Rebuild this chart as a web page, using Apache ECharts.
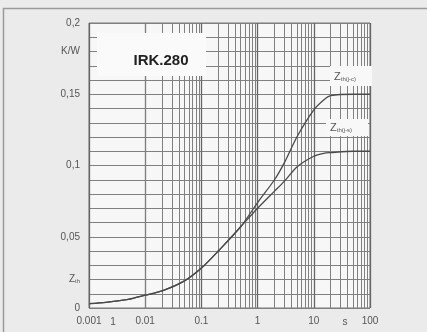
<!DOCTYPE html>
<html>
<head>
<meta charset="utf-8">
<script src="https://cdn.jsdelivr.net/npm/echarts@6/dist/echarts.min.js"></script>
<style>html,body{margin:0;padding:0;background:#ebebeb;}#c{width:427px;height:332px;}</style>
</head>
<body>
<div id="c"></div>
<script>
// Data
const times   = [0.001, 0.002, 0.005, 0.01, 0.02, 0.05, 0.1, 0.2, 0.5, 1, 2, 3, 5, 10, 15, 20, 50, 100];
const zthTop  = [0.003, 0.004, 0.006, 0.009, 0.012, 0.019, 0.028, 0.040, 0.057, 0.074, 0.090, 0.102, 0.120, 0.139, 0.146, 0.149, 0.150, 0.150];
const zthLow  = [0.003, 0.004, 0.006, 0.009, 0.012, 0.019, 0.028, 0.040, 0.057, 0.070, 0.082, 0.089, 0.099, 0.1065, 0.1085, 0.109, 0.110, 0.110];
const xMajor  = [0.001, 0.01, 0.1, 1, 10, 100];
const xTickLabels = ['0.001', '0.01', '0.1', '1', '10', '100'];
const yTickLabels = {0: '0', 5: '0,05', 10: '0,1', 15: '0,15', 20: '0,2', 18: 'K/W', 2: '{z|Z}{s|th}'};
const title = 'IRK.280';
const curveNames = ['th(j-c)', 'th(j-s)'];

// minor gridline values (2..9 per decade)
const xMinor = [];
for (let d = 0; d < xMajor.length - 1; d++) {
  for (let k = 2; k <= 9; k++) xMinor.push(+(xMajor[d] * k).toPrecision(3));
}

const chart = echarts.init(document.getElementById('c'));
const gridCol = '#808080';
chart.setOption({
  backgroundColor: '#ebebeb',
  animation: false,
  grid: {left: 89, right: 57, top: 23, bottom: 24, show: true, backgroundColor: '#f7f7f7', borderColor: '#777', borderWidth: 1},
  xAxis: {
    type: 'log', min: 0.001, max: 100, logBase: 10,
    axisLine: {show: false}, axisTick: {show: false},
    splitLine: {show: true, lineStyle: {color: '#666', width: 1.3}},
    axisLabel: {
      color: '#555', fontSize: 10, fontFamily: 'Liberation Sans', margin: 8,
      formatter: function (v) {
        for (let i = 0; i < xMajor.length; i++) if (Math.abs(Math.log10(v) - Math.log10(xMajor[i])) < 1e-6) return xTickLabels[i];
        return '';
      }
    }
  },
  yAxis: {
    type: 'value', min: 0, max: 0.2, interval: 0.01,
    axisLine: {show: false}, axisTick: {show: false},
    splitLine: {show: true, lineStyle: {color: gridCol, width: 1}},
    axisLabel: {
      color: '#555', fontSize: 10, fontFamily: 'Liberation Sans', margin: 9,
      formatter: function (v) {
        const k = Math.round(v * 100);
        return yTickLabels[k] !== undefined ? yTickLabels[k] : '';
      },
      rich: {z: {fontSize: 10, color: '#555'}, s: {fontSize: 6, color: '#555', verticalAlign: 'bottom', padding: [4, 0, 0, 0]}}
    }
  },
  series: [
    {
      type: 'line', name: curveNames[0], data: times.map((t, i) => [t, zthTop[i]]),
      smooth: 0.25, symbol: 'none', lineStyle: {color: '#4a4a4a', width: 1.3}, z: 5,
      markLine: {
        silent: true, symbol: 'none', label: {show: false},
        lineStyle: {color: gridCol, width: 1, type: 'solid'},
        data: xMinor.map(v => ({xAxis: v}))
      }
    },
    {
      type: 'line', name: curveNames[1], data: times.map((t, i) => [t, zthLow[i]]),
      smooth: 0.25, symbol: 'none', lineStyle: {color: '#4a4a4a', width: 1.3}, z: 5
    }
  ],
  graphic: [
    {type: 'rect', shape: {x: 3.5, y: 8.5, width: 440, height: 340}, style: {fill: 'none', stroke: '#9a9a9a', lineWidth: 1.5}, z: 0},
    {type: 'rect', shape: {x: 97, y: 33, width: 109, height: 43}, style: {fill: '#fafafa'}, z: 10},
    {type: 'text', x: 161, y: 61, style: {text: title, font: 'bold 15px Liberation Sans', fill: '#222', align: 'center', verticalAlign: 'middle'}, z: 11},
    {type: 'rect', shape: {x: 330, y: 66, width: 42, height: 20}, style: {fill: '#f8f8f8'}, z: 10},
    {type: 'rect', shape: {x: 326, y: 119, width: 42, height: 17}, style: {fill: '#f8f8f8'}, z: 10},
    {type: 'text', x: 334, y: 77, style: {text: '{z|Z}{s|' + curveNames[0] + '}', verticalAlign: 'middle', rich: {z: {font: '11px Liberation Sans', fill: '#555'}, s: {font: '6px Liberation Sans', fill: '#555', padding: [5, 0, 0, 0]}}}, z: 11},
    {type: 'text', x: 330, y: 128, style: {text: '{z|Z}{s|' + curveNames[1] + '}', verticalAlign: 'middle', rich: {z: {font: '11px Liberation Sans', fill: '#555'}, s: {font: '6px Liberation Sans', fill: '#555', padding: [5, 0, 0, 0]}}}, z: 11},
    {type: 'text', x: 113, y: 322, style: {text: '1', font: '10px Liberation Sans', fill: '#555', align: 'center', verticalAlign: 'middle'}, z: 11},
    {type: 'text', x: 345, y: 322, style: {text: 's', font: '10px Liberation Sans', fill: '#555', align: 'center', verticalAlign: 'middle'}, z: 11}
  ]
});
</script>
</body>
</html>
